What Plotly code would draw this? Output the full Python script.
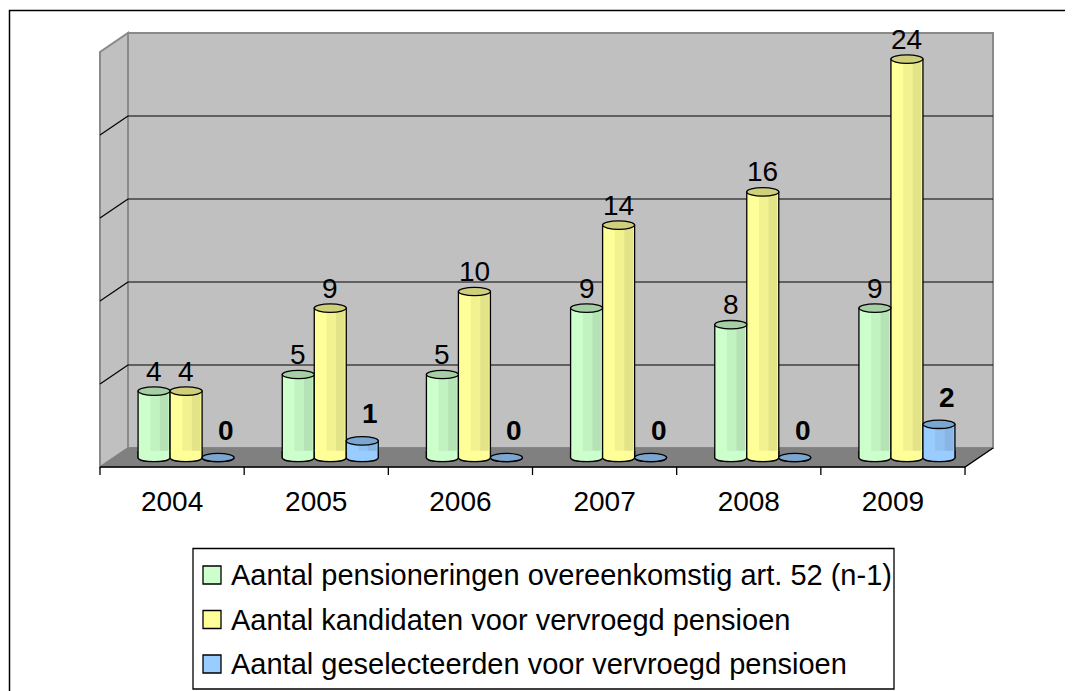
import plotly.graph_objects as go

# ---------------- data ----------------
years = ["2004", "2005", "2006", "2007", "2008", "2009"]
series_names = [
    "Aantal pensioneringen overeenkomstig art. 52 (n-1)",
    "Aantal kandidaten voor vervroegd pensioen",
    "Aantal geselecteerden voor vervroegd pensioen",
]
pensioneringen = [4, 5, 5, 9, 8, 9]
kandidaten = [4, 9, 10, 14, 16, 24]
geselecteerden = [0, 1, 0, 0, 0, 2]

# ---------------- styles ----------------
body_colors = ["#CCFFCC", "#FFFF99", "#99CCFF"]
top_colors = ["#A6CFA6", "#CFCF7C", "#7AA6CF"]
label_bold = [False, False, True]
FONT = "Liberation Sans, Arial, sans-serif"
BODY = 8                      # page body margin of the html page
W, H = 1073 - BODY, 691 - BODY

# pixel geometry (in screenshot pixels)
PLOT_L, PLOT_R, PLOT_T, PLOT_B = 96, 1000, 26, 482
X_FRONT_LEFT = 100.0      # px of x = -0.5 (front floor edge)
PX_CAT = 144.17           # px per category
Y_ZERO = 457.5            # px of value 0 (mid depth)
PX_UNIT = 16.6            # px per unit
DEPTH_X, DEPTH_Y = 28.0, 19.0

xr = [-0.5 - (X_FRONT_LEFT - PLOT_L) / PX_CAT, -0.5 + (PLOT_R - X_FRONT_LEFT) / PX_CAT]
yr = [-(PLOT_B - Y_ZERO) / PX_UNIT, (Y_ZERO - PLOT_T) / PX_UNIT]

dx = DEPTH_X / PX_CAT
dy = DEPTH_Y / PX_UNIT
y_front = -dy / 2
y_back = dy / 2
x_front_l, x_front_r = -0.5, len(years) - 0.5
x_back_l, x_back_r = x_front_l + dx, x_front_r + dx
ymax = 25
grid_vals = list(range(5, ymax, 5))

bar_w = 32 / PX_CAT
offsets = [(-34 + 32 * k) / PX_CAT for k in range(3)]
ell_b = 4.2 / PX_UNIT


def px2paper_x(px):
    return (px - PLOT_L) / (PLOT_R - PLOT_L)


def px2paper_y(py):
    return (PLOT_B - py) / (PLOT_B - PLOT_T)


shapes = []
wall_grey = "#C0C0C0"
edge_grey = "#8A8A8A"
# back wall
shapes.append(dict(type="rect", xref="x", yref="y", x0=x_back_l, x1=x_back_r,
                   y0=y_back, y1=ymax + y_back, fillcolor=wall_grey,
                   line=dict(color=edge_grey, width=2), layer="below"))
# side wall
shapes.append(dict(type="path", xref="x", yref="y",
                   path=f"M {x_front_l},{y_front} L {x_front_l},{ymax + y_front} "
                        f"L {x_back_l},{ymax + y_back} L {x_back_l},{y_back} Z",
                   fillcolor=wall_grey, line=dict(color=edge_grey, width=2), layer="below"))
# floor
shapes.append(dict(type="path", xref="x", yref="y",
                   path=f"M {x_front_l},{y_front} L {x_back_l},{y_back} "
                        f"L {x_back_r},{y_back} L {x_front_r},{y_front} Z",
                   fillcolor="#808080", line=dict(color="#808080", width=1), layer="below"))
# gridlines
for v in grid_vals:
    shapes.append(dict(type="line", xref="x", yref="y", x0=x_back_l, x1=x_back_r,
                       y0=v + y_back, y1=v + y_back, line=dict(color="black", width=1.2),
                       layer="below"))
    shapes.append(dict(type="line", xref="x", yref="y", x0=x_front_l, x1=x_back_l,
                       y0=v + y_front, y1=v + y_back, line=dict(color="black", width=1.2),
                       layer="below"))

series = [pensioneringen, kandidaten, geselecteerden]

fig = go.Figure()
for k, vals in enumerate(series):
    fig.add_trace(go.Bar(
        x=list(range(len(years))), y=vals, width=bar_w, offset=offsets[k],
        marker=dict(color=body_colors[k], line=dict(color="black", width=1.3)),
        name=series_names[k], showlegend=False, hoverinfo="skip",
    ))

annotations = []
for k, vals in enumerate(series):
    for i, v in enumerate(vals):
        xl = i + offsets[k]
        xrr = xl + bar_w
        if v > 0:
            # cylinder shading
            shapes.append(dict(type="rect", xref="x", yref="y",
                               x0=xl + bar_w * 0.38, x1=xrr - bar_w * 0.05, y0=0, y1=v,
                               fillcolor="rgba(0,0,0,0.05)", line=dict(width=0)))
            shapes.append(dict(type="rect", xref="x", yref="y",
                               x0=xl + bar_w * 0.68, x1=xrr - bar_w * 0.05, y0=0, y1=v,
                               fillcolor="rgba(0,0,0,0.06)", line=dict(width=0)))
        c = min(0.4, v)
        kk = 4.0 / 3.0 * ell_b
        shapes.append(dict(type="path", xref="x", yref="y",
                           path=f"M {xl},{c} L {xl},0 C {xl},{-kk} {xrr},{-kk} {xrr},0 L {xrr},{c}",
                           fillcolor=body_colors[k], line=dict(color="black", width=1.3)))
        shapes.append(dict(type="circle", xref="x", yref="y", x0=xl, x1=xrr,
                           y0=v - ell_b, y1=v + ell_b, fillcolor=top_colors[k],
                           line=dict(color="black", width=1.3)))
        bold = label_bold[k]
        annotations.append(dict(
            x=(xl + xrr) / 2, y=v, xref="x", yref="y", showarrow=False,
            text=f"<b>{v}</b>" if bold else str(v),
            font=dict(family=FONT, size=28, color="black"),
            xanchor="center", yanchor="middle",
            yshift=27 if bold else 20, xshift=8 if bold else 0,
        ))

# axis line (front floor edge) + right floor edge + ticks
shapes.append(dict(type="path", xref="x", yref="y",
                   path=f"M {x_front_l},{y_front} L {x_front_r},{y_front} L {x_back_r},{y_back}",
                   line=dict(color="black", width=1.3)))
tick_len = 8 / PX_UNIT
for i in range(len(years) + 1):
    shapes.append(dict(type="line", xref="x", yref="y", x0=i - 0.5, x1=i - 0.5,
                       y0=y_front, y1=y_front - tick_len, line=dict(color="black", width=1.3)))

# outer frame
shapes.append(dict(type="rect", xref="paper", yref="paper",
                   x0=px2paper_x(9.5), x1=px2paper_x(1090), y0=px2paper_y(710), y1=px2paper_y(10.5),
                   line=dict(color="black", width=1.5), fillcolor="rgba(0,0,0,0)"))

# manual legend
LEG_L, LEG_T, LEG_R, LEG_B = 193, 548.5, 894, 689
shapes.append(dict(type="rect", xref="paper", yref="paper",
                   x0=px2paper_x(LEG_L), x1=px2paper_x(LEG_R),
                   y0=px2paper_y(LEG_B), y1=px2paper_y(LEG_T),
                   line=dict(color="black", width=1.3), fillcolor="white"))
row_y = [575, 619.5, 664]
for k, name in enumerate(series_names):
    shapes.append(dict(type="rect", xref="paper", yref="paper",
                       x0=px2paper_x(203), x1=px2paper_x(221),
                       y0=px2paper_y(row_y[k] + 9), y1=px2paper_y(row_y[k] - 9),
                       line=dict(color="black", width=1.3), fillcolor=body_colors[k]))
    annotations.append(dict(
        x=px2paper_x(229), y=px2paper_y(row_y[k]), xref="paper", yref="paper",
        showarrow=False, text=name, xanchor="left", yanchor="middle",
        font=dict(family=FONT, size=29, color="black"),
    ))

fig.update_layout(
    width=W, height=H,
    margin=dict(l=PLOT_L - BODY, r=W - (PLOT_R - BODY), t=PLOT_T - BODY,
                b=H - (PLOT_B - BODY), pad=0),
    paper_bgcolor="white", plot_bgcolor="rgba(0,0,0,0)",
    barmode="overlay",
    shapes=shapes, annotations=annotations,
    showlegend=False,
    xaxis=dict(range=xr, tickvals=list(range(len(years))), ticktext=years,
               showgrid=False, zeroline=False, showline=False, ticks="",
               tickfont=dict(family=FONT, size=28, color="black"), fixedrange=True),
    yaxis=dict(range=yr, showgrid=False, zeroline=False, showline=False,
               showticklabels=False, ticks="", fixedrange=True),
)

fig.write_html("out.html")
